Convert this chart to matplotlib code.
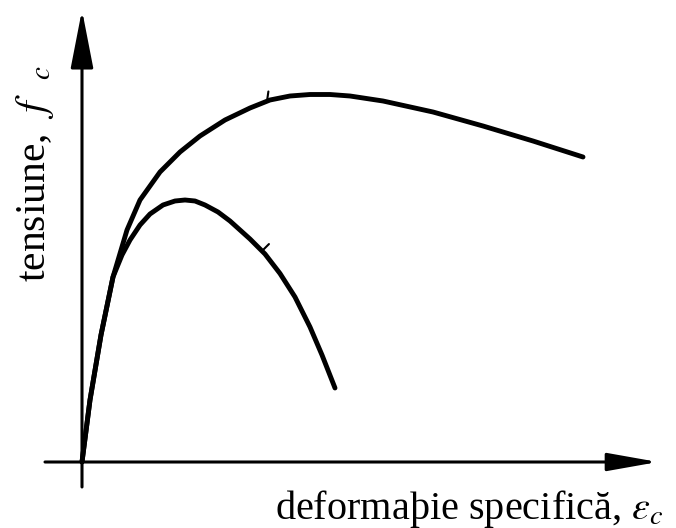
import numpy as np
import matplotlib.pyplot as plt

plt.rcParams['font.family'] = ['Liberation Serif', 'DejaVu Serif']
plt.rcParams['mathtext.fontset'] = 'stix'

# curba superioara si curba inferioara
eps_sup = [0, 0.08, 0.19, 0.31, 0.45, 0.58, 0.78, 0.98, 1.18, 1.43, 1.68, 1.88,
           2.08, 2.28, 2.48, 2.68, 3.01, 3.51, 4.01, 4.51, 5.01]
f_sup = [0, 0.62, 1.27, 1.85, 2.32, 2.62, 2.90, 3.10, 3.26, 3.42, 3.54, 3.62,
         3.66, 3.675, 3.675, 3.66, 3.61, 3.50, 3.36, 3.21, 3.05]
eps_inf = [0, 0.08, 0.19, 0.31, 0.40, 0.48, 0.58, 0.68, 0.81, 0.93, 1.03, 1.13,
           1.23, 1.36, 1.48, 1.68, 1.83, 1.98, 2.13, 2.28, 2.40, 2.53]
f_inf = [0, 0.62, 1.27, 1.85, 2.07, 2.22, 2.37, 2.48, 2.57, 2.61, 2.62, 2.61,
         2.57, 2.50, 2.41, 2.23, 2.08, 1.885, 1.65, 1.35, 1.07, 0.74]
# semne mici pe curbe
tick_eps = [1.85, 1.80]

fig = plt.figure(figsize=(6.76, 5.28), dpi=100)
ax = fig.add_axes([0, 0, 1, 1])
ax.set_xlim(-0.82, 5.94)
ax.set_ylim(-0.66, 4.62)
ax.axis('off')

ax.plot(eps_sup, f_sup, color='black', lw=3.5, solid_capstyle='round', solid_joinstyle='round')
ax.plot(eps_inf, f_inf, color='black', lw=3.5, solid_capstyle='round', solid_joinstyle='round')

# semnele
y1 = np.interp(tick_eps[0], eps_sup, f_sup)
ax.annotate('', xy=(tick_eps[0], y1), xytext=(1, 7), textcoords='offset points',
            arrowprops=dict(arrowstyle='-', lw=1.5, color='black', shrinkA=0, shrinkB=0))
y2 = np.interp(tick_eps[1], eps_inf, f_inf)
ax.annotate('', xy=(tick_eps[1], y2), xytext=(5, 5), textcoords='offset points',
            arrowprops=dict(arrowstyle='-', lw=1.5, color='black', shrinkA=0, shrinkB=0))

# axe cu sageti
ax.annotate('', xy=(0, 4.52), xytext=(0, -0.25),
            arrowprops=dict(arrowstyle='-|>,head_length=3.6,head_width=0.7',
                            lw=2.2, color='black', shrinkA=0, shrinkB=0))
ax.annotate('', xy=(5.76, 0), xytext=(-0.37, 0),
            arrowprops=dict(arrowstyle='-|>,head_length=3.1,head_width=0.55',
                            lw=2.2, color='black', shrinkA=0, shrinkB=0))

ax.text(-0.47, 2.88, r'tensiune,  $f\ \ {}_c$', rotation=90, ha='center', va='center',
        fontsize=30)
ax.text(5.81, -0.57, 'deformaþie specifică, $\\varepsilon_c$', ha='right', va='baseline',
        fontsize=29)

plt.savefig('out.png', dpi=100)
